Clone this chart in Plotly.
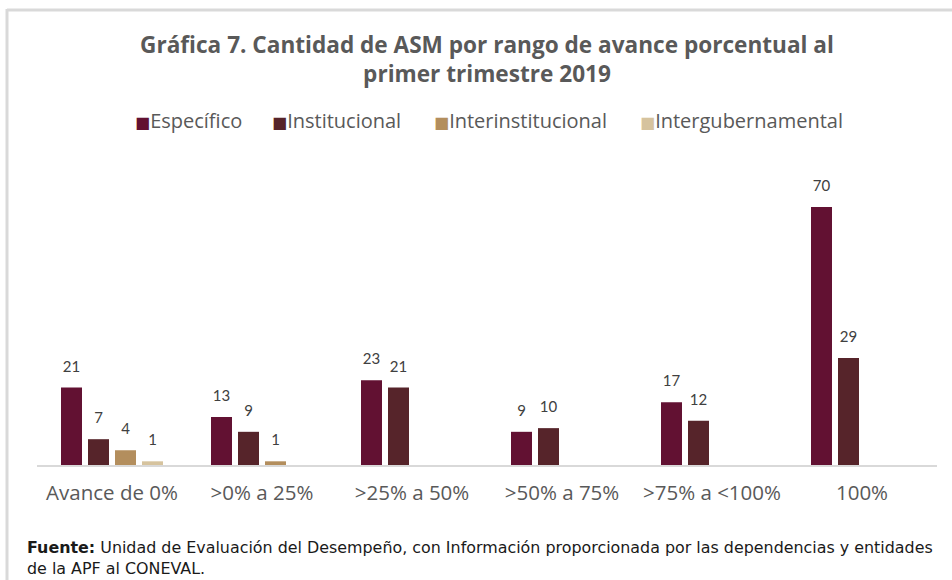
import plotly.graph_objects as go

categories = ["Avance de 0%", ">0% a 25%", ">25% a 50%", ">50% a 75%", ">75% a <100%", "100%"]
especifico = [21, 13, 23, 9, 17, 70]
institucional = [7, 9, 21, 10, 12, 29]
interinstitucional = [4, 1, None, None, None, None]
intergubernamental = [1, None, None, None, None, None]

series_names = ["Específico", "Institucional", "Interinstitucional", "Intergubernamental"]
series_values = [especifico, institucional, interinstitucional, intergubernamental]
colors = ["#621132", "#56242A", "#B38E5D", "#D6C39E"]

W, H = 952, 580
ML, MR, MT, MB = 37, 15, 170, 115
PW = W - ML - MR
PH = H - MT - MB

pitch = 0.18
bw = 0.14
n = len(series_names)


def px_x(p):
    return (p - ML) / PW


def px_y(p):
    return (H - MB - p) / PH


fig = go.Figure()
idx = list(range(len(categories)))
for j, (name, vals, col) in enumerate(zip(series_names, series_values, colors)):
    off = (j - (n - 1) / 2) * pitch
    xs = [i + off for i in idx]
    fig.add_trace(go.Bar(x=xs, y=vals, width=bw, name=name, marker_color=col,
                         marker_line_width=0, hoverinfo="y", showlegend=False))
    fig.add_trace(go.Scatter(x=xs, y=vals, mode="markers+text",
                             text=[("" if v is None else str(v)) for v in vals],
                             textposition="top center", showlegend=False, hoverinfo="skip",
                             marker=dict(size=18, opacity=0),
                             textfont=dict(family="Lato", size=15, color="#404040"), cliponaxis=False))

fig.update_layout(
    width=W, height=H,
    margin=dict(l=ML, r=MR, t=MT, b=MB, autoexpand=False),
    paper_bgcolor="white", plot_bgcolor="white",
    barmode="overlay",
    title=dict(text="Gráfica 7. Cantidad de ASM por rango de avance porcentual al<br>primer trimestre 2019",
               x=0.5, xref="paper", xanchor="center", y=1 - 53 / H, yanchor="middle",
               font=dict(family="Open Sans", size=22.6, color="#595959", weight="bold")),
    xaxis=dict(range=[-0.5, len(categories) - 0.5], tickmode="array", tickvals=idx, ticktext=categories,
               showgrid=False, zeroline=False, showline=True, linecolor="#D9D9D9", linewidth=2,
               ticks="", ticklabelstandoff=8,
               tickfont=dict(family="Open Sans", size=20.5, color="#595959"), fixedrange=True),
    yaxis=dict(range=[0, 80], visible=False, showgrid=False, zeroline=False, fixedrange=True),
    showlegend=False,
)

# legend drawn as text items
legend_x = [133, 270, 432, 638]
for name, col, lx in zip(series_names, colors, legend_x):
    fig.add_annotation(xref="paper", yref="paper", x=px_x(lx), y=px_y(121), xanchor="left", yanchor="middle",
                       showarrow=False,
                       text=f"<span style='color:{col};font-size:16px;font-family:DejaVu Sans'>■</span>{name}",
                       font=dict(family="Open Sans", size=20, color="#595959"))

fig.add_annotation(xref="paper", yref="paper", x=px_x(25), y=px_y(558), xanchor="left", yanchor="middle",
                   align="left", showarrow=False,
                   text="<b>Fuente:</b> Unidad de Evaluación del Desempeño, con Información proporcionada por las dependencias y entidades<br>de la APF al CONEVAL.",
                   font=dict(family="DejaVu Sans", size=15.9, color="#1A1A1A"))

border = "#D9D9D9"
fig.add_shape(type="line", xref="paper", yref="paper", x0=px_x(7), x1=px_x(955), y0=px_y(10), y1=px_y(10),
              line=dict(color=border, width=3))
fig.add_shape(type="line", xref="paper", yref="paper", x0=px_x(7), x1=px_x(7), y0=px_y(9), y1=px_y(585),
              line=dict(color=border, width=3))

fig.write_html("out.html", config={"displayModeBar": False},
               post_script="document.body.style.margin='0';")
